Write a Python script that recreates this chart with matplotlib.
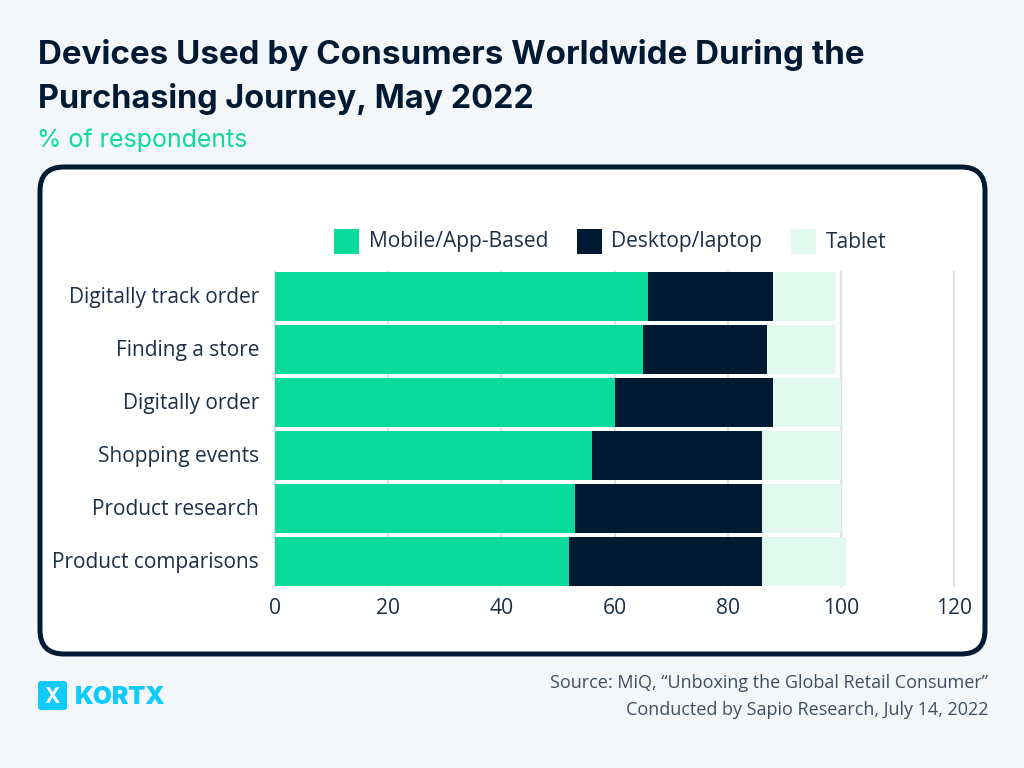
import matplotlib
matplotlib.use("Agg")
import matplotlib.pyplot as plt
from matplotlib.patches import FancyBboxPatch, Rectangle
from matplotlib.transforms import ScaledTranslation

CATEGORIES = ["Digitally track order", "Finding a store", "Digitally order",
              "Shopping events", "Product research", "Product comparisons"]
MOBILE = [66, 65, 60, 56, 53, 52]
DESKTOP = [22, 22, 28, 30, 33, 34]
TABLET = [11, 12, 12, 14, 14, 15]
SERIES = ["Mobile/App-Based", "Desktop/laptop", "Tablet"]
XTICKS = [0, 20, 40, 60, 80, 100, 120]

GREEN = "#09DC9A"
NAVY = "#011A33"
PALE = "#E0F8EE"
BG = "#F4F7F9"
TEXT = "#1B2F47"
W, H = 1024, 768

plt.rcParams["font.family"] = ["Open Sans", "DejaVu Sans"]

fig = plt.figure(figsize=(W / 100, H / 100), dpi=100, facecolor=BG)

# full figure overlay in pixel coords, y going down
bg = fig.add_axes([0, 0, 1, 1], zorder=0)
bg.set_xlim(0, W)
bg.set_ylim(H, 0)
bg.axis("off")

bg.add_patch(FancyBboxPatch((40, 167), 945, 487, boxstyle="round,pad=0,rounding_size=24",
                            fc="white", ec=NAVY, lw=3.6))

bg.text(38, 55, "Devices Used by Consumers Worldwide During the", fontsize=23.9, fontweight="bold",
        family="Inter", color=NAVY, va="center")
bg.text(38, 99, "Purchasing Journey, May 2022", fontsize=23.3, fontweight="bold",
        family="Inter", color=NAVY, va="center")
bg.text(37, 140, "% of respondents", fontsize=18, family="Inter", color=GREEN, va="center")

# legend drawn by hand to hit the positions
for x, tx, name, col in zip([334, 577, 791], [369, 611, 826], SERIES, [GREEN, NAVY, PALE]):
    bg.add_patch(Rectangle((x, 229), 25, 25, fc=col, ec="none"))
    bg.text(tx, 242, name, fontsize=15.1, color=TEXT, va="center")

# logo
bg.add_patch(FancyBboxPatch((38, 681), 29, 29, boxstyle="round,pad=0,rounding_size=3",
                            fc="#0FCBFB", ec="none"))
bg.text(52.5, 697, "X", fontsize=15, fontweight="bold", color="white", ha="center", va="center",
        family="Inter")
bg.text(75, 698, "KORTX", fontsize=17.8, fontweight="black", color="#0FCBFB", va="center", family="Inter")

bg.text(988, 683, "Source: MiQ, \u201cUnboxing the Global Retail Consumer\u201d", fontsize=13,
        color="#3D4F63", ha="right", va="center")
bg.text(988, 710, "Conducted by Sapio Research, July 14, 2022", fontsize=13,
        color="#3D4F63", ha="right", va="center")

# chart
ax = fig.add_axes([275 / W, 1 - 586 / H, (954 - 275) / W, (586 - 272) / H], zorder=1)
ax.patch.set_alpha(0)
ys = list(range(len(CATEGORIES)))
left2 = [a + b for a, b in zip(MOBILE, DESKTOP)]
ax.barh(ys, MOBILE, height=0.925, color=GREEN, zorder=2)
ax.barh(ys, DESKTOP, left=MOBILE, height=0.925, color=NAVY, zorder=2)
ax.barh(ys, TABLET, left=left2, height=0.925, color=PALE, zorder=2)

ax.set_xlim(0, 120)
ax.set_ylim(len(CATEGORIES) - 1 + 0.4625, -0.4625)
ax.set_xticks(XTICKS)
ax.set_yticks(ys)
ax.set_yticklabels(CATEGORIES)
ax.tick_params(axis="both", length=0, labelsize=15, labelcolor=TEXT)
ax.tick_params(axis="x", labelsize=15.2, pad=9)
ax.tick_params(axis="y", pad=11.5)
ax.grid(axis="x", color="#DDE1E8", lw=1.6, zorder=1, clip_on=False)
ax.set_axisbelow(True)
for s in ax.spines.values():
    s.set_visible(False)
# nudge category labels up a touch
for lab in ax.get_yticklabels():
    lab.set_transform(lab.get_transform() + ScaledTranslation(0, 1.5 / 100, fig.dpi_scale_trans))

fig.savefig("out.png", dpi=100, facecolor=BG)
